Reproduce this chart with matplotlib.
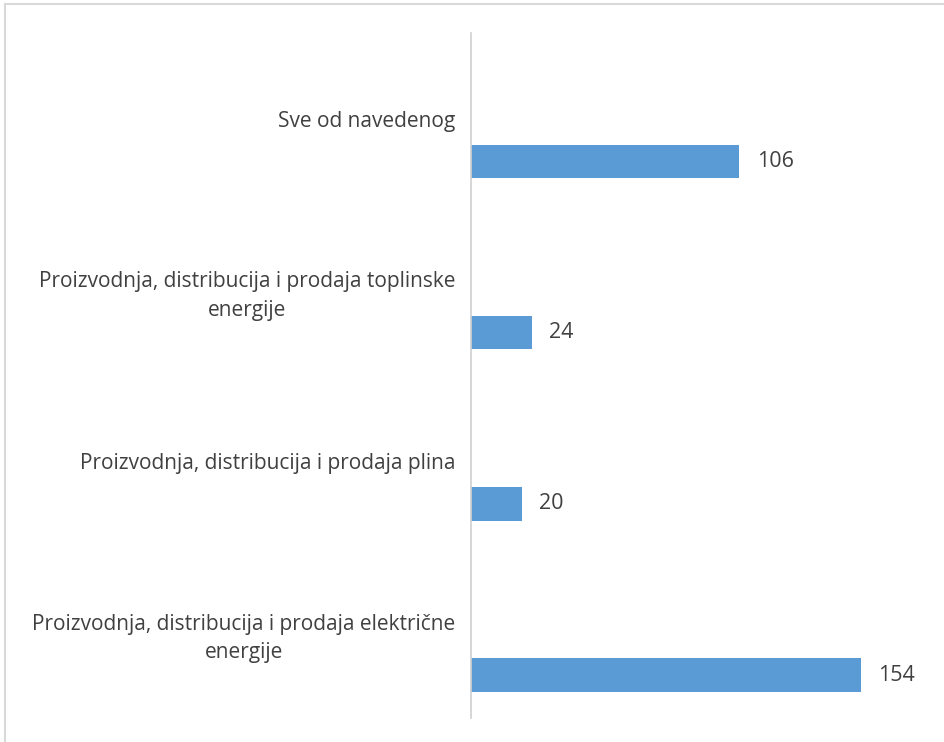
import matplotlib.pyplot as plt
from matplotlib.lines import Line2D

categories = [
    "Sve od navedenog",
    "Proizvodnja, distribucija i prodaja toplinske\nenergije",
    "Proizvodnja, distribucija i prodaja plina",
    "Proizvodnja, distribucija i prodaja električne\nenergije",
]
values = [106, 24, 20, 154]

plt.rcParams['font.family'] = ['Open Sans', 'DejaVu Sans']

fig = plt.figure(figsize=(9.44, 7.42), dpi=100)
ax = fig.add_axes([471 / 944, 1 - 718 / 742, 1 - 471 / 944, (718 - 33) / 742])

pos = list(range(len(categories)))
bar_pos = [p + 0.25 for p in pos]
ax.barh(bar_pos, values, height=0.195, color="#5b9bd5")

for y, v in zip(bar_pos, values):
    ax.text(v + 7, y, str(v), va="center", ha="left", fontsize=15.5, color="#404040")

ax.set_ylim(len(categories) - 0.5, -0.5)
ax.set_xlim(0, 187)
ax.set_yticks(pos)
ax.set_yticklabels(categories, fontsize=15, color="#404040", linespacing=1.45,
                   multialignment="center")
ax.tick_params(axis="y", length=0, pad=11)
ax.set_xticks([])
for s in ["top", "right", "bottom"]:
    ax.spines[s].set_visible(False)
ax.spines["left"].set_color("#d0d0d0")
ax.spines["left"].set_linewidth(1.2)

# outer chart border
fig.add_artist(Line2D([5 / 944, 1], [1 - 4 / 742, 1 - 4 / 742], color="#d9d9d9", lw=1.5))
fig.add_artist(Line2D([5 / 944, 5 / 944], [0, 1 - 4 / 742], color="#d9d9d9", lw=1.5))

fig.savefig("out.png", dpi=100)
